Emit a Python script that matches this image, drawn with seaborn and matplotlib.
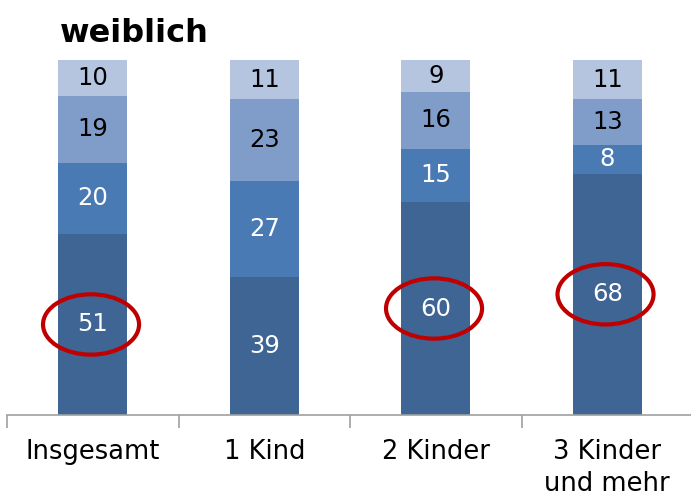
import matplotlib
matplotlib.use("Agg")
import matplotlib.pyplot as plt
import seaborn as sns
import numpy as np
import pandas as pd
from matplotlib.patches import Ellipse

categories = ["Insgesamt", "1 Kind", "2 Kinder", "3 Kinder\nund mehr"]
seg1 = [51, 39, 60, 68]
seg2 = [20, 27, 15, 8]
seg3 = [19, 23, 16, 13]
seg4 = [10, 11, 9, 11]
highlight = [True, False, True, True]
title = "weiblich"

colors = ["#3E6594", "#4A7AB4", "#7F9DC8", "#B5C4DF"]
text_colors = ["white", "white", "black", "black"]

sns.set_theme(style="white")
plt.rcParams['font.family'] = ['DejaVu Sans']

fig = plt.figure(figsize=(6.91, 4.96), dpi=100)
ax = fig.add_axes([7/691, (496-415)/496, 686/691, 355/496])

series = [seg1, seg2, seg3, seg4]
bottom = np.zeros(len(categories))
x = np.arange(len(categories))
for vals, col, tc in zip(series, colors, text_colors):
    df = pd.DataFrame({"cat": categories, "val": vals})
    sns.barplot(data=df, x="cat", y="val", color=col, width=0.40,
                bottom=bottom, ax=ax, saturation=1, linewidth=0)
    for xi, (v, b) in enumerate(zip(vals, bottom)):
        ax.text(xi, b + v / 2, str(v), ha="center", va="center",
                color=tc, fontsize=17.5)
    bottom = bottom + np.array(vals)

for xi, (h, v) in enumerate(zip(highlight, seg1)):
    if h:
        ax.add_patch(Ellipse((xi - 0.01, v / 2), 0.56, 17, fill=False,
                             edgecolor="#C00000", linewidth=3, zorder=5))

ax.set_xlim(-0.5, 3.5)
ax.set_ylim(0, 100)
ax.set_xlabel("")
ax.set_ylabel("")
ax.set_yticks([])
for s in ["top", "right", "left"]:
    ax.spines[s].set_visible(False)
ax.spines["bottom"].set_color("#A0A0A0")
ax.spines["bottom"].set_linewidth(1.2)
ax.set_xticks(x)
ax.set_xticklabels(categories, fontsize=18.5, color="black", linespacing=1.3)
ax.tick_params(axis="x", which="major", length=0, pad=17)
ax.set_xticks(np.arange(-0.5, 4, 1), minor=True)
ax.tick_params(axis="x", which="minor", length=9, color="#A0A0A0", width=1.2, bottom=True)

fig.text(60/691, 1 - 33/496, title, fontsize=23, fontweight="bold", color="black",
         ha="left", va="center")

fig.savefig("out.png", dpi=100)
